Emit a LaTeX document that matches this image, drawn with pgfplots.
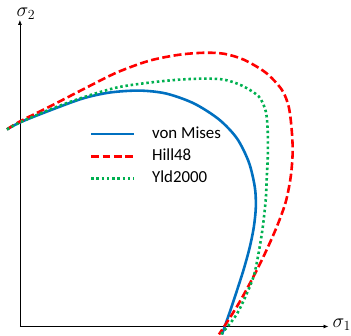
\documentclass[border=0pt]{standalone}
\usepackage{pgfplots}
\pgfplotsset{compat=1.18}
\usetikzlibrary{arrows.meta}
\usepackage{fix-cm}
\usepackage{fontspec}
\setmainfont{Carlito}
\definecolor{vmblue}{HTML}{0070C0}
\definecolor{hillred}{HTML}{FF0000}
\definecolor{yldgreen}{HTML}{00B050}
\begin{document}
\begin{tikzpicture}
\begin{axis}[
  scale only axis, width=310bp, height=308bp,
  xmin=0, xmax=310, ymin=0, ymax=308,
  axis lines=left,
  axis line style={black, line width=0.8bp, -{Latex[length=5bp,width=4bp]}},
  xtick=\empty, ytick=\empty,
  clip=false,
  legend cell align=left,
  legend style={draw=none, fill=none, at={(axis cs:67,205)}, anchor=north west,
    font=\fontsize{17}{20}\selectfont, row sep=4bp,
    nodes={inner xsep=0bp, inner ysep=1bp, text height=12.5bp, text depth=4bp},
    /tikz/every even column/.append style={column sep=0bp}},
  legend image code/.code={\draw[#1] (0bp,0bp) -- (43bp,0bp) node[right, draw=none, inner sep=0pt] {\hspace*{17bp}};},
]
\addplot[vmblue, line width=2.6bp, smooth] coordinates {
(-13,198) (0,205) (30,217) (63,229) (90,235) (120,237) (147,234) (175,224) (200,208) (218,189) (230,165) (236,140) (237,120) (235,100) (231,80) (225,58) (218,36) (211,15) (203,-8)};
\addplot[hillred, line width=2.6bp, dash pattern=on 8bp off 3.5bp, smooth] coordinates {
(-13,198) (0,206) (30,221) (63,238) (97,255) (130,267) (160,273) (185,275) (205,274) (225,268) (247,255) (263,238) (270,221) (273,198) (274,175) (272,150) (267,125) (258,100) (246,73) (233,47) (218,20) (200,-8)};
\addplot[yldgreen, line width=2.6bp, dash pattern=on 2.5bp off 2.8bp, smooth] coordinates {
(-13,198) (0,205) (30,218) (63,230) (97,240) (130,245) (160,248) (185,249) (205,248) (223,242) (240,231) (247,216) (249,195) (249,170) (248,150) (247,128) (244,100) (240,75) (235,51) (227,31) (217,11) (202,-8)};
\legend{von Mises, Hill48, Yld2000}
\node[anchor=west, inner sep=0pt, font=\fontsize{20}{24}\selectfont] at (axis cs:314,2) {$\sigma_1$};
\node[anchor=center, inner sep=0pt, font=\fontsize{20}{24}\selectfont] at (axis cs:6,314) {$\sigma_2$};
\path (axis cs:-20,-8) rectangle (axis cs:331,328);
\end{axis}
\end{tikzpicture}
\end{document}
